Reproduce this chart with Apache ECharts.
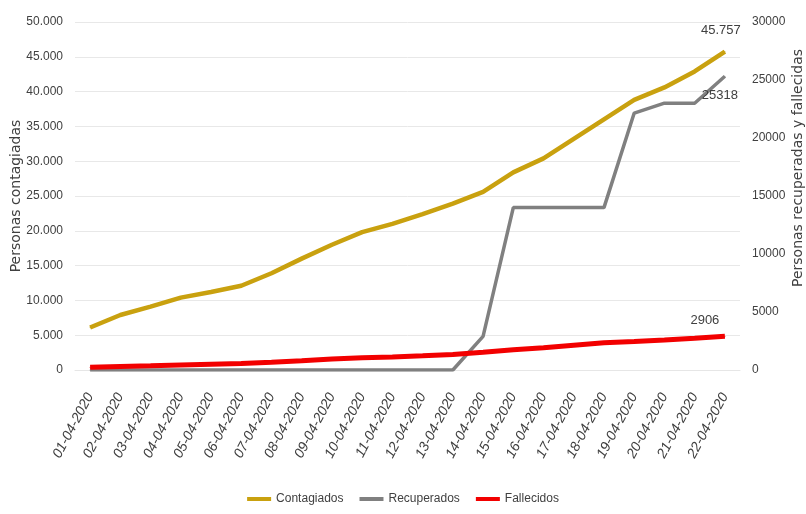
<!DOCTYPE html>
<html>
<head>
<meta charset="utf-8">
<script src="https://cdn.jsdelivr.net/npm/echarts@6/dist/echarts.min.js"></script>
<style>
html,body{margin:0;padding:0;background:#fff;}
#c{width:806px;height:514px;}
</style>
</head>
<body>
<div id="c"></div>
<script>
var categories = ['01-04-2020','02-04-2020','03-04-2020','04-04-2020','05-04-2020','06-04-2020','07-04-2020','08-04-2020','09-04-2020','10-04-2020','11-04-2020','12-04-2020','13-04-2020','14-04-2020','15-04-2020','16-04-2020','17-04-2020','18-04-2020','19-04-2020','20-04-2020','21-04-2020','22-04-2020'];
var contagiados = [6100, 7900, 9100, 10400, 11200, 12100, 13900, 16000, 18000, 19800, 21000, 22400, 23900, 25600, 28400, 30400, 33200, 36000, 38800, 40600, 42900, 45757];
var recuperados = [0, 0, 0, 0, 0, 0, 0, 0, 0, 0, 0, 0, 0, 2900, 14000, 14000, 14000, 14000, 22150, 23000, 23000, 25318];
var fallecidos = [240, 300, 360, 430, 490, 550, 670, 800, 940, 1060, 1120, 1220, 1330, 1530, 1740, 1920, 2140, 2350, 2460, 2580, 2740, 2906];
var leftTicks = {min: 0, max: 50000, interval: 5000};
var rightTicks = {min: 0, max: 30000, interval: 5000};

var FONT = "'Liberation Sans', sans-serif";
var NAMEFONT = "'DejaVu Sans', sans-serif";
var chart = echarts.init(document.getElementById('c'));

function dotFmt(v) { return String(v).replace(/\B(?=(\d{3})+(?!\d))/g, '.'); }
function withEndLabel(arr, text, pos, offset) {
  return arr.map(function (v, i) {
    if (i !== arr.length - 1) return v;
    return {value: v, label: {show: true, position: pos, offset: offset, formatter: text,
      fontFamily: FONT, fontSize: 13, color: '#404040'}};
  });
}

chart.setOption({
  animation: false,
  backgroundColor: '#fff',
  grid: {left: 75, right: 66, top: 22, bottom: 144, outerBoundsMode: 'none', containLabel: false},
  legend: {
    bottom: 4, left: 'center',
    itemWidth: 24, itemHeight: 4, itemGap: 16,
    icon: 'rect',
    textStyle: {fontFamily: FONT, fontSize: 12, color: '#404040'},
    data: ['Contagiados', 'Recuperados', 'Fallecidos']
  },
  xAxis: {
    type: 'category', data: categories, boundaryGap: true,
    axisLine: {show: true, lineStyle: {color: '#e6e6e6'}},
    axisTick: {show: false},
    axisLabel: {rotate: 62, interval: 0, fontFamily: FONT, fontStyle: 'italic', fontSize: 14, color: '#404040', margin: 24}
  },
  yAxis: [{
    type: 'value', min: leftTicks.min, max: leftTicks.max, interval: leftTicks.interval,
    name: 'Personas contagiadas', nameLocation: 'middle', nameGap: 52, nameRotate: 90, nameMoveOverlap: false,
    nameTextStyle: {fontFamily: NAMEFONT, fontSize: 14, color: '#404040'},
    axisLine: {show: false}, axisTick: {show: false},
    axisLabel: {fontFamily: FONT, fontSize: 12, color: '#404040', formatter: dotFmt, margin: 12},
    splitLine: {show: true, lineStyle: {color: '#e8e8e8', width: 1}}
  }, {
    type: 'value', position: 'right', min: rightTicks.min, max: rightTicks.max, interval: rightTicks.interval,
    name: 'Personas recuperadas y fallecidas', nameLocation: 'middle', nameGap: 51, nameRotate: 90, nameMoveOverlap: false,
    nameTextStyle: {fontFamily: NAMEFONT, fontSize: 14, color: '#404040', padding: [0, 0, 0, 56]},
    axisLine: {show: false}, axisTick: {show: false},
    axisLabel: {fontFamily: FONT, fontSize: 12, color: '#404040', margin: 12, formatter: function (v) { return String(v); }},
    splitLine: {show: false}
  }],
  series: [{
    name: 'Contagiados', type: 'line', yAxisIndex: 0,
    data: withEndLabel(contagiados, '45.757', 'top', [-4, -9]),
    symbol: 'circle', symbolSize: 1, showSymbol: true,
    lineStyle: {color: '#C9A10F', width: 4.5}, itemStyle: {color: '#C9A10F'}
  }, {
    name: 'Recuperados', type: 'line', yAxisIndex: 1,
    data: withEndLabel(recuperados, '25318', 'bottom', [-5, 7]),
    symbol: 'circle', symbolSize: 1, showSymbol: true,
    lineStyle: {color: '#808080', width: 3.5}, itemStyle: {color: '#808080'}
  }, {
    name: 'Fallecidos', type: 'line', yAxisIndex: 1,
    data: withEndLabel(fallecidos, '2906', 'top', [-20, -4]),
    symbol: 'circle', symbolSize: 1, showSymbol: true,
    lineStyle: {color: '#F20000', width: 5}, itemStyle: {color: '#F20000'}
  }]
});
</script>
</body>
</html>
